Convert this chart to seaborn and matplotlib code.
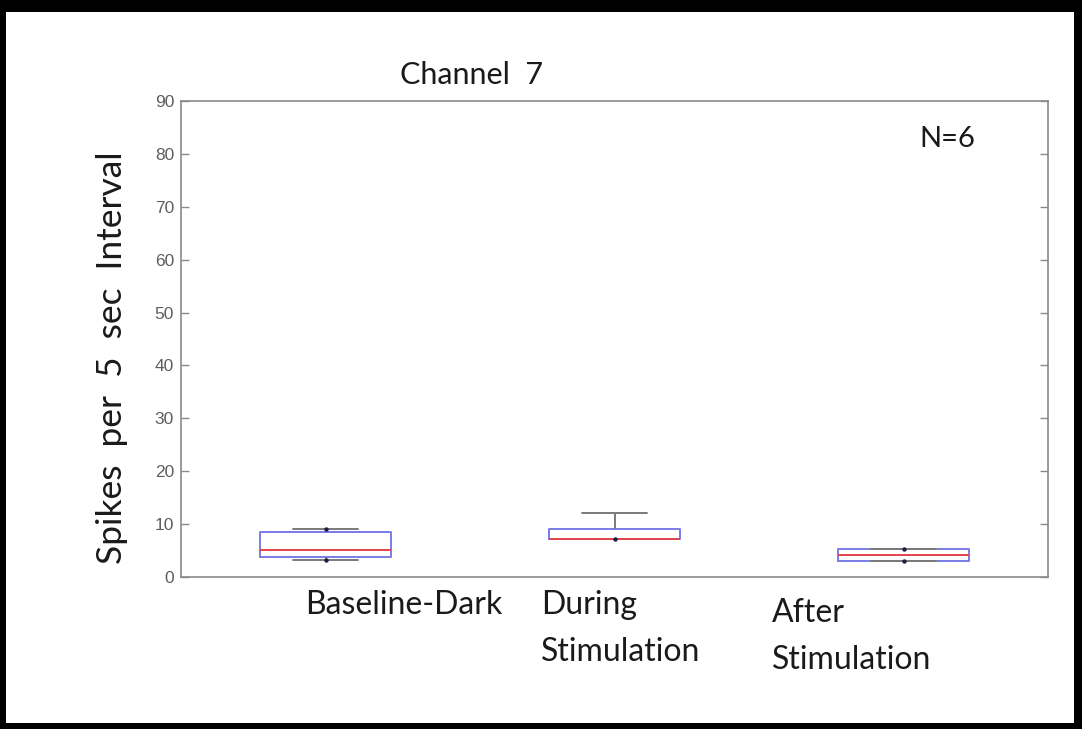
import matplotlib
matplotlib.use("Agg")
import matplotlib.pyplot as plt
from matplotlib.patches import Rectangle
import seaborn as sns
import pandas as pd

# Five-number summaries (min, Q1, median, Q3, max) per recording condition
conditions = ["Baseline-Dark", "During Stimulation", "After Stimulation"]
baseline_dark = [3.2, 3.8, 5.1, 8.6, 9.1]
during_stim = [7.1, 7.1, 7.1, 9.1, 12.1]
after_stim = [3.1, 3.1, 4.2, 5.2, 5.2]

# Whisker end markers
dot_conditions = ["Baseline-Dark", "Baseline-Dark", "During Stimulation",
                  "After Stimulation", "After Stimulation"]
dot_values = [9.1, 3.2, 7.1, 5.2, 3.1]

category_labels = ["Baseline-Dark", "During\nStimulation", "After\nStimulation"]
yticks = [0, 10, 20, 30, 40, 50, 60, 70, 80, 90]

df = pd.DataFrame({
    "condition": [conditions[0]] * 5 + [conditions[1]] * 5 + [conditions[2]] * 5,
    "spikes": baseline_dark + during_stim + after_stim,
})
dots = pd.DataFrame({"condition": dot_conditions, "spikes": dot_values})

sns.set_style("white")
plt.rcParams["font.family"] = ["Lato", "DejaVu Sans"]

W, H = 1082, 729
fig = plt.figure(figsize=(W / 100, H / 100), dpi=100)
ax = fig.add_axes([181 / W, 1 - 577 / H, (1048 - 181) / W, (577 - 101) / H])

blue = "#7b7be8"
red = "#e0454a"
grey = "#7a7a7a"

sns.boxplot(
    data=df, x="condition", y="spikes", order=conditions, ax=ax,
    whis=(0, 100), width=0.455, fill=False, linewidth=1.4,
    boxprops=dict(color=blue), medianprops=dict(color=red, linewidth=1.4),
    whiskerprops=dict(color=grey, linewidth=1.4),
    capprops=dict(color=grey, linewidth=1.4),
    showfliers=False,
)
sns.scatterplot(data=dots, x="condition", y="spikes", ax=ax,
                color="#1c1c44", s=10, linewidth=0, zorder=5)

ax.set_xlim(-0.5, 2.5)
ax.set_ylim(0, 90)
ax.set_yticks(yticks)
ax.set_yticklabels([str(t) for t in yticks], family="Liberation Sans",
                   fontsize=12.5, color="#5e5e5e")
ax.set_xticks([])
ax.set_xlabel("")
ax.set_ylabel("")
ax.tick_params(axis="y", which="both", direction="in", length=6, width=1,
               color="#8a8a8a", left=True, right=True, pad=5)
for s in ax.spines.values():
    s.set_color("#8a8a8a")
    s.set_linewidth(1.2)

ax.text(0.2526, 1.0546, "Channel  7", transform=ax.transAxes,
        fontsize=22, color="#1a1a1a", ha="left", va="center")
ax.text(0.852, 0.921, "N=6", transform=ax.transAxes,
        fontsize=21, color="#1a1a1a", ha="left", va="center")
fig.text(112 / W, 1 - 358 / H, "Spikes  per  5  sec  Interval", rotation=90,
         fontsize=25.5, color="#1a1a1a", ha="center", va="center")

label_pos = [(305, 590), (541, 590), (772, 598)]
for (px, py), lab in zip(label_pos, category_labels):
    fig.text(px / W, 1 - py / H, lab, fontsize=23, color="#1a1a1a",
             ha="left", va="top", linespacing=1.7)

# Black frame around the whole figure
frame = [(0, 0, 6 / W, 1), (1 - 8 / W, 0, 8 / W, 1),
         (0, 1 - 12 / H, 1, 12 / H), (0, 0, 1, 6 / H)]
for x0, y0, w, h in frame:
    fig.patches.append(Rectangle((x0, y0), w, h, transform=fig.transFigure,
                                 facecolor="black", edgecolor="none"))

fig.savefig("out.png", dpi=100)
